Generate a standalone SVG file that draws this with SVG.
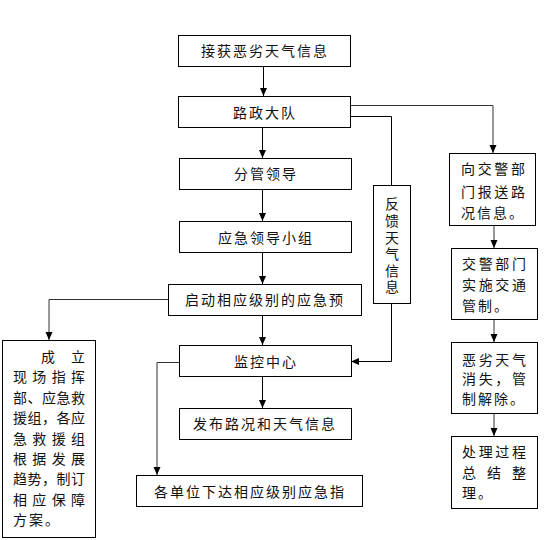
<svg xmlns="http://www.w3.org/2000/svg" width="552" height="540" viewBox="0 0 552 540">
<defs>
<style>
.box{fill:#fff;stroke:#000;stroke-width:1}
.t{font-family:"Noto Sans CJK SC","Noto Sans CJK JP",sans-serif;font-size:14px;fill:#111;letter-spacing:2px}
.c{text-anchor:middle}
.j{letter-spacing:0}
.v{writing-mode:vertical-rl;letter-spacing:2.6px}
.ln{fill:none;stroke:#000;stroke-width:1}
.lg{fill:none;stroke:#333;stroke-width:1}
</style>
<marker id="ah" markerUnits="userSpaceOnUse" markerWidth="9" markerHeight="9" refX="8" refY="4" orient="auto" viewBox="0 0 9 8">
<path d="M0,0.5 L8,4 L0,7.5 z" fill="#000"/>
</marker>
</defs>
<rect width="552" height="540" fill="#fff"/>

<g id="connectors">
<path class="ln" d="M263.5,66 V96" marker-end="url(#ah)"/>
<path class="ln" d="M262.5,127 V158" marker-end="url(#ah)"/>
<path class="ln" d="M262.5,190 V221" marker-end="url(#ah)"/>
<path class="ln" d="M262.5,253 V284" marker-end="url(#ah)"/>
<path class="ln" d="M262.5,316 V345" marker-end="url(#ah)"/>
<path class="ln" d="M262.5,377 V408" marker-end="url(#ah)"/>
<path class="lg" d="M351,105.5 H493 V153" marker-end="url(#ah)"/>
<path class="ln" d="M351,116.5 H391.5 V185"/>
<path class="ln" d="M391.5,304 V361.5 H351" marker-end="url(#ah)"/>
<path class="lg" d="M168,299.5 H49 V340" marker-end="url(#ah)"/>
<path class="lg" d="M179,362.5 H157 V475" marker-end="url(#ah)"/>
<path class="lg" d="M494,226 V248" marker-end="url(#ah)"/>
<path class="lg" d="M494,320 V342" marker-end="url(#ah)"/>
<path class="lg" d="M494,414 V436" marker-end="url(#ah)"/>
</g>

<g id="n1"><rect class="box" x="178.5" y="35.5" width="172" height="31"/><text class="t c" x="265" y="55.5">接获恶劣天气信息</text></g>
<g id="n2"><rect class="box" x="178.5" y="96.5" width="172" height="31"/><text class="t c" x="265" y="118">路政大队</text></g>
<g id="n3"><rect class="box" x="179.5" y="158.5" width="172" height="31"/><text class="t c" x="266" y="179">分管领导</text></g>
<g id="n4"><rect class="box" x="179.5" y="221.5" width="172" height="31"/><text class="t c" x="266" y="243">应急领导小组</text></g>
<g id="n5"><rect class="box" x="168.5" y="284.5" width="193" height="31"/><text class="t c" x="265" y="305">启动相应级别的应急预</text></g>
<g id="n6"><rect class="box" x="179.5" y="345.5" width="172" height="31"/><text class="t c" x="266" y="366.5">监控中心</text></g>
<g id="n7"><rect class="box" x="179.5" y="408.5" width="172" height="31"/><text class="t c" x="265" y="429">发布路况和天气信息</text></g>
<g id="n8"><rect class="box" x="136.5" y="475.5" width="226" height="31"/><text class="t c" x="250" y="497">各单位下达相应级别应急指</text></g>

<g id="feedback"><rect class="box" x="373.5" y="185.5" width="37" height="118"/>
<text class="t v" x="392" y="197">反馈天气信息</text></g>

<g id="r1"><rect class="box" x="449.5" y="153.5" width="86" height="72"/>
<text class="t j" x="461" y="174" textLength="64" lengthAdjust="spacing">向交警部</text>
<text class="t j" x="461" y="196.5" textLength="64" lengthAdjust="spacing">门报送路</text>
<text class="t" x="461" y="218">况信息。</text></g>

<g id="r2"><rect class="box" x="451.5" y="248.5" width="86" height="71"/>
<text class="t j" x="462" y="269" textLength="64" lengthAdjust="spacing">交警部门</text>
<text class="t j" x="462" y="290" textLength="64" lengthAdjust="spacing">实施交通</text>
<text class="t" x="462" y="311">管制。</text></g>

<g id="r3"><rect class="box" x="451.5" y="342.5" width="86" height="71"/>
<text class="t j" x="462" y="364.5" textLength="64" lengthAdjust="spacing">恶劣天气</text>
<text class="t j" x="462" y="384" textLength="64" lengthAdjust="spacing">消失，管</text>
<text class="t" x="462" y="404">制解除。</text></g>

<g id="r4"><rect class="box" x="451.5" y="436.5" width="86" height="72"/>
<text class="t j" x="462" y="456.5" textLength="64" lengthAdjust="spacing">处理过程</text>
<text class="t j" x="462" y="478" textLength="64" lengthAdjust="spacing">总结整</text>
<text class="t" x="462" y="498">理。</text></g>

<g id="left"><rect class="box" x="2.5" y="340.5" width="93" height="197"/>
<text class="t j" x="41" y="362" textLength="44" lengthAdjust="spacing">成立</text>
<text class="t j" x="13" y="382.4" textLength="72" lengthAdjust="spacing">现场指挥</text>
<text class="t j" x="13" y="402.8" textLength="72" lengthAdjust="spacing">部、应急救</text>
<text class="t j" x="13" y="423.2" textLength="72" lengthAdjust="spacing">援组，各应</text>
<text class="t j" x="13" y="443.6" textLength="72" lengthAdjust="spacing">急救援组</text>
<text class="t j" x="13" y="464" textLength="72" lengthAdjust="spacing">根据发展</text>
<text class="t j" x="13" y="484.4" textLength="72" lengthAdjust="spacing">趋势，制订</text>
<text class="t j" x="13" y="504.8" textLength="72" lengthAdjust="spacing">相应保障</text>
<text class="t" x="13" y="525.2">方案。</text></g>
</svg>
